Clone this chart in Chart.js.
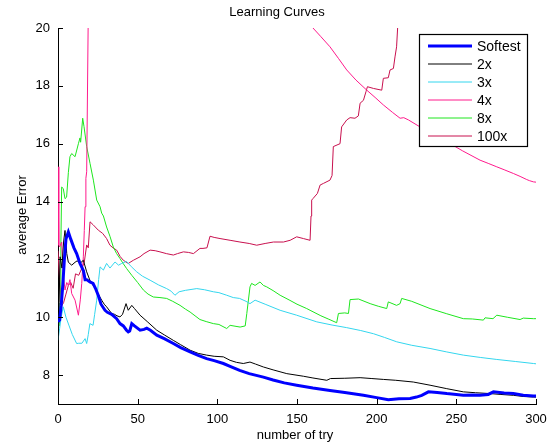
<!DOCTYPE html>
<html>
<head>
<meta charset="utf-8">
<script src="https://cdn.jsdelivr.net/npm/chart.js@4/dist/chart.umd.min.js"></script>
<style>
  html, body { margin: 0; padding: 0; background: #fff; }
  #wrap { width: 558px; height: 447px; }
</style>
</head>
<body>
<div id="wrap"><canvas id="curves"></canvas></div>
<script>
// values, [try, error]
const softest = [[0,9.84],[1,9.9],[2,10.4],[3,11.1],[4,12.0],[5,12.7],[6.5,12.95],[8,12.7],[10,12.4],[11.7,12.2],[13.8,11.86],[16,11.6],[17,11.3],[18,11.3],[20,11.22],[22,11.17],[23.5,11.0],[25.3,10.75],[27,10.45],[29.5,10.24],[31,10.17],[33.7,10.1],[36.8,9.95],[38.9,9.78],[41,9.7],[43,9.55],[44.1,9.49],[45,9.52],[46.3,9.78],[48,9.7],[51.5,9.55],[54,9.58],[55.7,9.62],[58,9.55],[62,9.38],[67,9.25],[72.4,9.09],[77,8.95],[82.9,8.8],[88,8.68],[93.3,8.57],[98,8.5],[103.8,8.4],[108,8.3],[114,8.16],[120,8.05],[128.9,7.93],[135,7.83],[142,7.73],[149.8,7.65],[160,7.55],[170.7,7.47],[180,7.4],[191.7,7.3],[200,7.22],[207.3,7.15],[214,7.18],[221,7.19],[225,7.24],[228.3,7.3],[232.5,7.42],[238,7.4],[244,7.36],[250,7.33],[254.4,7.3],[260,7.31],[264.9,7.3],[270,7.33],[273.3,7.42],[280,7.38],[285.8,7.36],[292,7.3],[298.4,7.28],[300,7.28]];
const twoX = [[0,8.86],[0.7,10.5],[1.3,12.09],[2.5,11.7],[3.5,12.6],[4.4,13.0],[5.5,12.2],[6.5,11.9],[8.6,11.8],[10.7,11.9],[12,11.95],[13.8,11.86],[15.9,11.97],[18,11.57],[20,11.28],[21.5,11.15],[23.2,11.0],[25.3,10.8],[27.4,10.59],[29,10.45],[30.5,10.36],[32,10.25],[33.7,10.13],[35.5,10.1],[37,10.05],[38.9,10.01],[40.5,10.1],[42.7,10.47],[44.1,10.24],[46.3,10.41],[48,10.3],[51.5,10.07],[56,9.85],[62,9.55],[67,9.38],[72.4,9.2],[77,9.05],[82.9,8.86],[88,8.75],[93.3,8.69],[98,8.65],[103.8,8.63],[108,8.51],[112,8.44],[116.3,8.4],[120.5,8.45],[124,8.38],[128.9,8.28],[135,8.18],[143.6,8.05],[154,7.96],[160,7.9],[168.7,7.82],[171,7.88],[180,7.89],[189.6,7.91],[197,7.88],[204.2,7.85],[212,7.82],[223,7.76],[233.5,7.65],[244,7.53],[254.4,7.42],[262,7.39],[271.2,7.36],[278,7.33],[285.8,7.3],[292,7.26],[298.4,7.24],[300,7.24]];
const threeX = [[0,9.2],[1,9.6],[2,10.0],[3.3,10.36],[5,10.0],[7,9.7],[9,9.4],[11.7,9.09],[13,9.1],[15,9.1],[17,9.26],[18,9.09],[19,9.4],[20,9.78],[22,9.72],[23,10.1],[24.3,10.59],[25.5,11.3],[26.4,11.74],[28.5,11.63],[30.5,11.86],[32.6,11.7],[35.8,11.91],[38,11.8],[40,11.86],[43,11.93],[46,11.75],[49.4,11.57],[53,11.42],[57.8,11.28],[63,11.12],[68.2,10.99],[71,10.9],[73.4,10.76],[76,10.88],[80,10.93],[87.1,10.99],[92,10.95],[97.5,10.88],[101,10.85],[105.9,10.76],[110,10.68],[114,10.65],[118,10.55],[120.5,10.47],[123.7,10.59],[130,10.45],[139.4,10.24],[149.8,10.07],[162.4,9.84],[172,9.73],[181.2,9.64],[190,9.54],[198,9.43],[205,9.3],[212.6,9.15],[222,9.03],[233.5,8.92],[244,8.8],[254.4,8.69],[265,8.61],[275.4,8.54],[287,8.47],[298.4,8.4],[300,8.39]];
const fourX = [[0,15.2],[0.5,12.5],[1,12.43],[2.3,12.6],[3.3,11.5],[4.4,10.94],[5.5,11.2],[6.5,11.1],[7.5,11.3],[8.6,10.82],[10.7,10.59],[12.8,10.07],[14,10.6],[14.9,11.17],[15.9,12.09],[16.5,13.0],[17,13.82],[17.5,14.8],[18,15.03],[19,20.5],[20,45],[30,42],[50,36],[75,30],[100,26],[125,23],[150,20.8],[159.2,20.05],[165,19.7],[170.7,19.35],[176,18.95],[181.2,18.55],[187,18.2],[193.8,17.85],[199,17.6],[204.2,17.34],[210,17.08],[214.7,16.88],[217,16.9],[220,16.82],[227.2,16.58],[235,16.35],[244,16.07],[254,15.75],[264.9,15.43],[270,15.32],[275.4,15.2],[280,15.1],[285.8,14.97],[290,14.87],[294.2,14.76],[296,14.72],[298.4,14.68],[300,14.67]];
const eightX = [[0,9.9],[0.7,9.7],[1.3,10.5],[1.8,12.5],[2.3,14.5],[3.3,14.45],[4.4,14.1],[5.4,14.15],[6.5,15.0],[7.5,15.55],[8.6,15.66],[10.7,15.55],[12.8,16.0],[13.8,16.2],[14.2,16.05],[15.5,16.88],[16.3,16.6],[18,15.9],[20.1,15.32],[22.2,14.74],[24.3,14.05],[26.4,13.82],[27.4,13.6],[28.5,13.5],[30.5,13.12],[32.6,12.8],[34.7,12.43],[36.8,12.2],[38.9,12.03],[41,11.85],[43.1,11.68],[46.3,11.45],[50,11.2],[53.6,10.94],[56.5,10.8],[59.8,10.7],[64,10.68],[68.2,10.65],[72,10.55],[76.6,10.41],[80,10.28],[82.9,10.18],[86,10.05],[89.1,9.92],[93,9.85],[97.5,9.78],[101,9.75],[105.9,9.61],[108,9.72],[114.3,9.66],[117.5,9.7],[118.5,10.13],[120.5,11.05],[121.5,11.17],[123.7,11.1],[126.8,11.22],[128.9,11.1],[131,11.05],[135,10.92],[139.4,10.76],[145,10.6],[150,10.45],[156.1,10.3],[158.2,10.24],[165,10.05],[170,9.93],[174.9,9.81],[176,10.13],[180,10.15],[182.3,10.13],[183.3,10.61],[188.6,10.63],[195.9,10.47],[201,10.38],[206.3,10.3],[207.3,10.53],[212.5,10.41],[214.7,10.47],[215.7,10.65],[222,10.55],[233.5,10.3],[244,10.12],[254.4,9.95],[260,9.94],[267,9.9],[268,9.98],[273,9.95],[275.4,10.07],[282,10.0],[290,9.92],[292,9.97],[298.4,9.95],[300,9.95]];
const hundredX = [[0,12.3],[1,11.3],[2.3,10.4],[3.5,10.5],[5,10.8],[6.5,11.1],[8,11.2],[9.5,11.0],[11,11.5],[13,11.45],[15,11.7],[16.5,11.9],[18,12.5],[19,12.4],[20.1,13.3],[22,13.2],[25.3,13.01],[28,12.9],[30.5,12.72],[32.6,12.49],[34.5,12.4],[36.8,12.32],[39,12.1],[41,11.97],[44.1,11.86],[47.3,11.97],[51.5,12.09],[54,12.2],[57.8,12.32],[61,12.3],[64,12.26],[68,12.2],[72.4,12.15],[75,12.2],[78.7,12.26],[82,12.24],[85,12.2],[89.1,12.38],[91,12.38],[93.5,12.4],[95.4,12.8],[98,12.76],[101.7,12.72],[108,12.66],[114.2,12.6],[120,12.55],[124.7,12.49],[130,12.55],[135.2,12.6],[141.5,12.6],[145.7,12.66],[149.8,12.78],[154,12.72],[158.2,12.66],[158.8,13.5],[159.2,14.05],[160,14.1],[162.8,14.28],[164.5,14.57],[166.7,14.63],[170.7,14.74],[172,14.9],[172.8,15.9],[177,16.0],[178,16.58],[181.2,16.82],[183.3,16.9],[186.4,16.88],[188.5,16.96],[189.6,17.4],[191.7,17.5],[193.3,17.8],[194.2,17.97],[198,17.91],[203.2,17.85],[204.2,18.26],[207.3,18.28],[208.4,18.55],[210.5,18.6],[211.5,19.0],[212.5,19.35],[213.2,20.05],[214,21],[218,24],[230,30],[260,38],[300,45]];

const seriesNames = ["Softest", "2x", "3x", "4x", "8x", "100x"];
const xTicks = [0, 50, 100, 150, 200, 250, 300];
const yTicks = [8, 10, 12, 14, 16, 18, 20];

const FONT = "'Liberation Sans', Arial, Helvetica, sans-serif";

function pts(arr) { return arr.map(p => ({ x: p[0], y: p[1] })); }

function line(label, arr, color, width) {
  return {
    label, data: pts(arr), borderColor: color, backgroundColor: color,
    borderWidth: width, pointRadius: 0, tension: 0, fill: false
  };
}

// MATLAB-ish decorations: inward ticks, title, axis labels, boxed legend
const matlabBits = {
  id: "matlabBits",
  afterDatasetsDraw(chart) {
    const { ctx, chartArea: a, scales: { x, y } } = chart;
    ctx.save();
    ctx.strokeStyle = "#000";
    ctx.lineWidth = 1;
    ctx.beginPath();
    xTicks.forEach(v => {
      const px = Math.round(x.getPixelForValue(v)) + 0.5;
      ctx.moveTo(px, a.bottom); ctx.lineTo(px, a.bottom - 5);
    });
    yTicks.forEach(v => {
      const py = Math.round(y.getPixelForValue(v)) + 0.5;
      ctx.moveTo(a.left, py); ctx.lineTo(a.left + 5, py);
    });
    ctx.stroke();

    ctx.fillStyle = "#000";
    ctx.font = "13px " + FONT;
    ctx.textAlign = "center";
    ctx.textBaseline = "middle";
    ctx.fillText("Learning Curves", 277, 12);
    ctx.fillText("number of try", 295, 435);
    ctx.save();
    ctx.translate(22, 215);
    ctx.rotate(-Math.PI / 2);
    ctx.fillText("average Error", 0, 0);
    ctx.restore();

    // legend box
    const bx = 419.5, by = 34.5, bw = 108, bh = 112;
    ctx.fillStyle = "#fff";
    ctx.fillRect(bx, by, bw, bh);
    ctx.lineWidth = 1.2;
    ctx.strokeRect(bx, by, bw, bh);
    ctx.textAlign = "left";
    chart.data.datasets.forEach((ds, i) => {
      const cy = 46 + i * 18;
      ctx.strokeStyle = ds.borderColor;
      ctx.lineWidth = ds.borderWidth;
      ctx.beginPath();
      ctx.moveTo(428, cy); ctx.lineTo(472, cy);
      ctx.stroke();
      ctx.fillStyle = "#000";
      ctx.font = "14px " + FONT;
      ctx.fillText(ds.label, 477, cy + 1);
    });
    ctx.restore();
  }
};

new Chart(document.getElementById("curves"), {
  type: "line",
  data: {
    datasets: [
      line(seriesNames[0], softest, "#0000ff", 3),
      line(seriesNames[1], twoX, "#000000", 1),
      line(seriesNames[2], threeX, "#33d6ee", 1),
      line(seriesNames[3], fourX, "#ff1a8c", 1),
      line(seriesNames[4], eightX, "#1ee61e", 1),
      line(seriesNames[5], hundredX, "#c8104e", 1)
    ]
  },
  options: {
    responsive: true,
    maintainAspectRatio: false,
    animation: false,
    layout: { padding: { left: 0, top: 28, right: 22, bottom: 0 } },
    plugins: { legend: { display: false }, title: { display: false }, tooltip: { enabled: false } },
    scales: {
      x: {
        type: "linear", min: 0, max: 300,
        afterFit: s => { s.height = 43; },
        afterBuildTicks: s => { s.ticks = xTicks.map(v => ({ value: v })); },
        grid: { drawOnChartArea: false, drawTicks: false },
        border: { display: true, color: "#000", width: 1 },
        ticks: { color: "#000", padding: 8, font: { family: FONT, size: 13 } }
      },
      y: {
        type: "linear", min: 7, max: 20,
        afterFit: s => { s.width = 58; },
        afterBuildTicks: s => { s.ticks = yTicks.map(v => ({ value: v })); },
        grid: { drawOnChartArea: false, drawTicks: false },
        border: { display: true, color: "#000", width: 1 },
        ticks: { color: "#000", padding: 8, font: { family: FONT, size: 13 } }
      }
    }
  },
  plugins: [matlabBits]
});
</script>
</body>
</html>
